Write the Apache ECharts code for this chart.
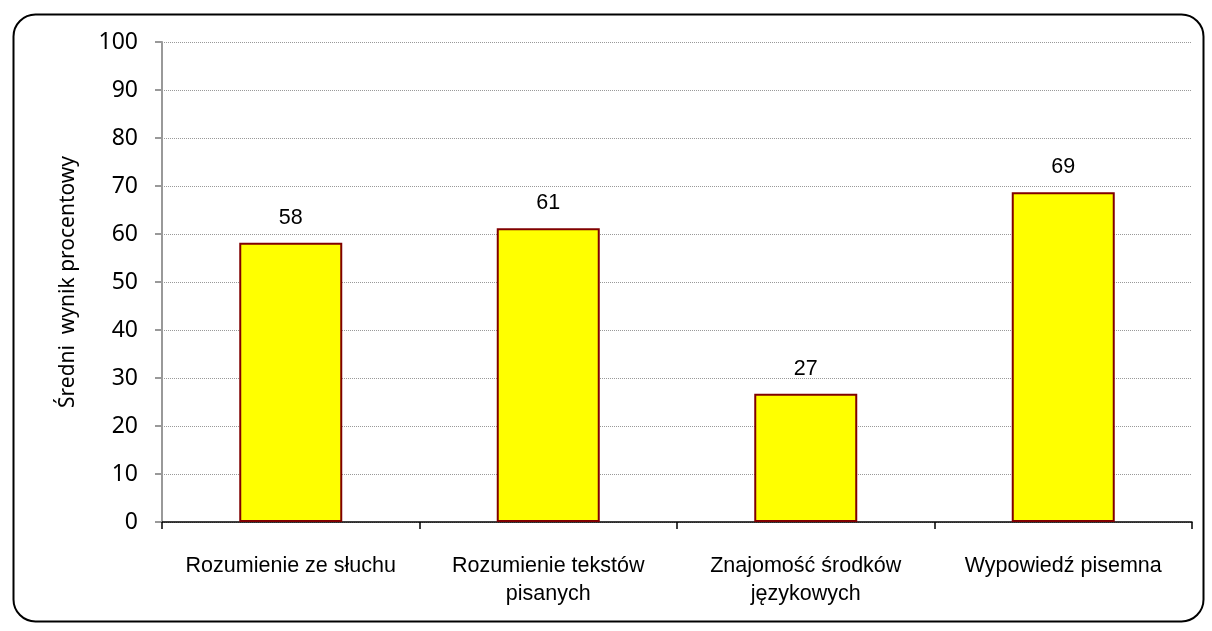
<!DOCTYPE html>
<html><head><meta charset="utf-8">
<script src="https://cdn.jsdelivr.net/npm/echarts@6/dist/echarts.min.js"></script>
<style>html,body{margin:0;padding:0;background:#fff}#c{width:1212px;height:631px}</style>
</head><body><div id="c"></div>
<script>
const categories = ['Rozumienie ze słuchu', 'Rozumienie tekstów\npisanych', 'Znajomość środków\njęzykowych', 'Wypowiedź pisemna'];
const values = [58.2, 61.2, 26.7, 68.7];
const yTicks = [0, 10, 20, 30, 40, 50, 60, 70, 80, 90, 100];
const yName = 'Średni  wynik procentowy';

const chart = echarts.init(document.getElementById('c'), null, {renderer: 'canvas'});
chart.setOption({
  animation: false,
  backgroundColor: '#fff',
  graphic: [{
    type: 'rect', left: 11, top: 12,
    shape: {width: 1190, height: 607, r: 22},
    style: {fill: 'none', stroke: '#000', lineWidth: 2}, z: 100
  }],
  grid: {left: 162, right: 20, top: 42, bottom: 109},
  xAxis: {
    type: 'category', data: categories,
    axisLine: {lineStyle: {color: '#000', width: 1.5}},
    axisTick: {show: true, length: 7, lineStyle: {color: '#000', width: 1.5}},
    axisLabel: {color: '#000', fontFamily: 'Liberation Sans', fontSize: 21.5, lineHeight: 28, margin: 30, interval: 0}
  },
  yAxis: {
    type: 'value', min: yTicks[0], max: yTicks[yTicks.length - 1], interval: 10,
    name: yName, nameLocation: 'middle', nameGap: 83, nameRotate: 90,
    nameTextStyle: {color: '#000', fontFamily: 'Noto Sans', fontSize: 21},
    axisLine: {show: true, lineStyle: {color: '#999', width: 2}},
    axisTick: {show: true, length: 7, lineStyle: {color: '#999', width: 2}},
    axisLabel: {color: '#000', fontFamily: 'Noto Sans', fontSize: 23, margin: 24},
    splitLine: {lineStyle: {color: '#999', type: [1, 1], width: 1}}
  },
  series: [{
    type: 'bar', data: values, barWidth: '40%',
    itemStyle: {color: '#FFFF00', borderColor: '#800000', borderWidth: 2},
    label: {show: true, position: 'top', distance: 14, color: '#000',
      fontFamily: 'Liberation Sans', fontSize: 21.5,
      formatter: p => Math.round(p.value)}
  }]
});
</script></body></html>
